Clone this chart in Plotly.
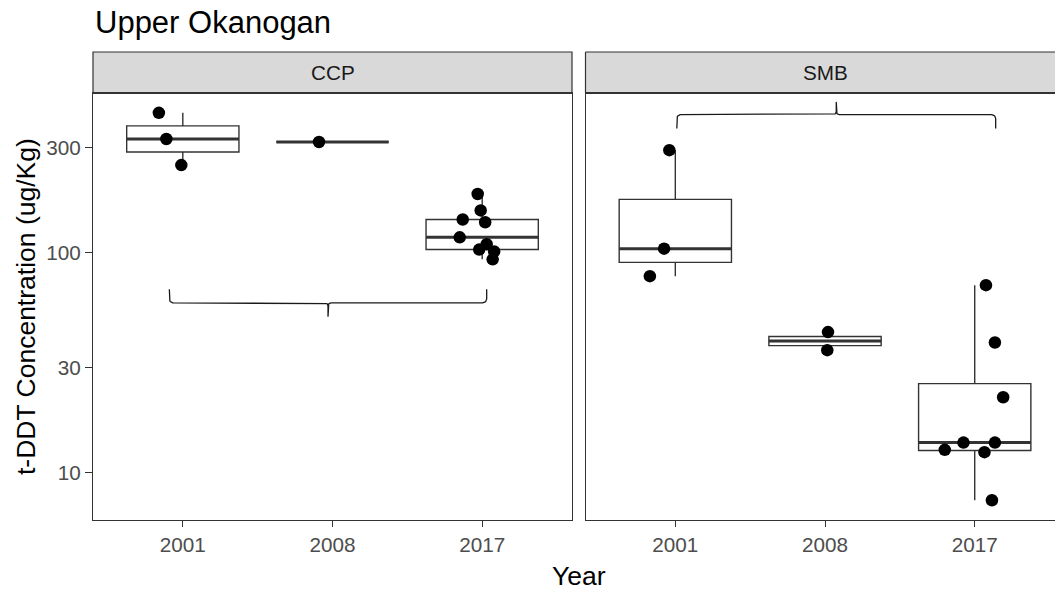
import numpy as np
import plotly.graph_objects as go

# ---- data -------------------------------------------------------------
years = ["2001", "2008", "2017"]
facets = ["CCP", "SMB"]
chart_title = "Upper Okanogan"
x_title = "Year"
y_title = "t-DDT Concentration (ug/Kg)"
y_ticks = [10, 30, 100, 300]

# t-DDT concentrations (ug/Kg) by site and sampling year
ccp_2001 = [430, 327, 249]
ccp_2008 = [317]
ccp_2017 = [184, 155, 141, 137, 117, 109, 103, 101, 93]
smb_2001 = [291, 104, 78]
smb_2008 = [43.5, 36]
smb_2017 = [71, 39, 22, 13.7, 13.7, 12.7, 12.4, 7.5]

# horizontal jitter of each point, in category units
ccp_2001_jitter = [-0.16, -0.11, -0.01]
ccp_2008_jitter = [-0.09]
ccp_2017_jitter = [-0.03, -0.01, -0.13, 0.02, -0.15, 0.03, -0.02, 0.08, 0.07]
smb_2001_jitter = [-0.04, -0.075, -0.17]
smb_2008_jitter = [0.02, 0.015]
smb_2017_jitter = [0.075, 0.135, 0.19, -0.075, 0.135, -0.2, 0.065, 0.115]

# significance braces: (x start, x end, bar level, arm ends, tip)
ccp_brace = (0.91, 3.03, 59, 68, 51)
smb_brace = (1.01, 3.14, 422, 365, 482)

# ---- styling -----------------------------------------------------------
FONT = "Liberation Sans, Arial, sans-serif"
DARK = "#333333"
TICK_GREY = "#4D4D4D"
BOX_W = 0.75
Y_RANGE = [0.7855, 2.722]

# plot-area geometry (pixels)
W, H = 1055, 592
M_L, M_R, M_T, M_B = 93, 0, 52, 72
PW = W - M_L - M_R
PH = H - M_T - M_B
panel_top = 93.3
y_dom_top = (H - M_B - panel_top) / PH
left_dom = [0, 479 / PW]
right_dom = [(585.5 - M_L) / PW, 1]
right_xmax = 0.4 + (W - 585.5) / 149.7


def box_stats(values):
    """Tukey box statistics computed on the log10 scale."""
    lv = np.log10(np.asarray(values, dtype=float))
    q1, med, q3 = np.quantile(lv, [0.25, 0.5, 0.75])
    iqr = q3 - q1
    lo = lv[lv >= q1 - 1.5 * iqr].min()
    hi = lv[lv <= q3 + 1.5 * iqr].max()
    return [10 ** v for v in (lo, q1, med, q3, hi)]


def brace_xy(x0, x1, y_line, y_end, y_tip, rx=0.027, ry=0.018, rt=0.02, rty=0.014, n=10):
    L, E, T = np.log10(y_line), np.log10(y_end), np.log10(y_tip)
    s = np.sign(E - L)
    t = np.sign(T - L)
    xm = (x0 + x1) / 2
    xs, ys = [x0], [E]
    # left corner
    th = np.linspace(np.pi, np.pi + s * np.pi / 2, n)
    xs += list(x0 + rx + rx * np.cos(th)); ys += list(L + s * ry + ry * np.sin(th))
    # middle, left half
    th = np.linspace(-t * np.pi / 2, 0, n)
    xs += list(xm - rt + rt * np.cos(th)); ys += list(L + t * rty + rty * np.sin(th))
    xs += [xm, xm]; ys += [T, L + t * rty]
    # middle, right half
    th = np.linspace(np.pi, np.pi + t * np.pi / 2, n)
    xs += list(xm + rt + rt * np.cos(th)); ys += list(L + t * rty + rty * np.sin(th))
    # right corner
    th = np.linspace(np.pi + s * np.pi / 2, np.pi + s * np.pi, n)
    xs += list(x1 - rx + rx * np.cos(th)); ys += list(L + s * ry + ry * np.sin(th))
    xs.append(x1); ys.append(E)
    return xs, [10 ** v for v in ys]


fig = go.Figure()

panels = [
    ("x", "y", [ccp_2001, ccp_2008, ccp_2017],
     [ccp_2001_jitter, ccp_2008_jitter, ccp_2017_jitter], ccp_brace),
    ("x2", "y2", [smb_2001, smb_2008, smb_2017],
     [smb_2001_jitter, smb_2008_jitter, smb_2017_jitter], smb_brace),
]

for xa, ya, groups, jitters, brace in panels:
    pos = [1, 2, 3]
    stats = [box_stats(g) for g in groups]
    fig.add_trace(go.Box(
        x=pos,
        lowerfence=[s[0] for s in stats], q1=[s[1] for s in stats],
        median=[s[2] for s in stats], q3=[s[3] for s in stats],
        upperfence=[s[4] for s in stats],
        width=BOX_W, whiskerwidth=0, boxpoints=False,
        fillcolor="white", line=dict(color=DARK, width=1.4),
        xaxis=xa, yaxis=ya, showlegend=False, hoverinfo="skip",
    ))
    # thicker median bars
    mx, my = [], []
    for p, s in zip(pos, stats):
        mx += [p - BOX_W / 2, p + BOX_W / 2, None]
        my += [s[2], s[2], None]
    fig.add_trace(go.Scatter(
        x=mx, y=my, mode="lines", line=dict(color=DARK, width=3),
        xaxis=xa, yaxis=ya, showlegend=False, hoverinfo="skip",
    ))
    # jittered observations
    px, py = [], []
    for p, g, j in zip(pos, groups, jitters):
        px += [p + d for d in j]
        py += list(g)
    fig.add_trace(go.Scatter(
        x=px, y=py, mode="markers",
        marker=dict(color="black", size=12.5, line=dict(width=0)),
        xaxis=xa, yaxis=ya, showlegend=False, hoverinfo="skip",
    ))
    bx, by = brace_xy(*brace)
    fig.add_trace(go.Scatter(
        x=bx, y=by, mode="lines", line=dict(color="#1A1A1A", width=1.3),
        xaxis=xa, yaxis=ya, showlegend=False, hoverinfo="skip",
    ))

common_x = dict(
    tickmode="array", tickvals=[1, 2, 3], ticktext=years,
    ticks="outside", ticklen=6, tickwidth=1.2, tickcolor=DARK,
    tickfont=dict(family=FONT, size=20.7, color=TICK_GREY),
    showline=True, linecolor=DARK, linewidth=1.2, mirror=True,
    showgrid=False, zeroline=False,
)
common_y = dict(
    type="log", range=Y_RANGE, domain=[0, y_dom_top],
    showgrid=False, zeroline=False, showline=True, linecolor=DARK, linewidth=1.2,
)

fig.update_layout(
    width=W, height=H,
    margin=dict(l=M_L, r=M_R, t=M_T, b=M_B, pad=0),
    paper_bgcolor="white", plot_bgcolor="white",
    hovermode=False,
    xaxis=dict(domain=left_dom, range=[0.4, 3.6], anchor="y", **common_x),
    xaxis2=dict(domain=right_dom, range=[0.4, right_xmax], anchor="y2", **common_x),
    yaxis=dict(anchor="x", mirror=True,
               tickmode="array", tickvals=y_ticks, ticktext=[str(v) for v in y_ticks],
               ticks="outside", ticklen=7, tickwidth=1.2, tickcolor=DARK,
               tickfont=dict(family=FONT, size=20.7, color=TICK_GREY),
               **common_y),
    yaxis2=dict(anchor="x2", matches="y", mirror=False, showticklabels=False,
                ticks="", **common_y),
)

# facet strips
strip_fill = "#D9D9D9"
fig.add_shape(type="rect", xref="paper", yref="paper",
              x0=left_dom[0], x1=left_dom[1], y0=y_dom_top, y1=1,
              fillcolor=strip_fill, line=dict(color=DARK, width=1.2), layer="below")
fig.add_shape(type="rect", xref="paper", yref="paper",
              x0=right_dom[0], x1=right_dom[1], y0=y_dom_top, y1=1,
              fillcolor=strip_fill, line=dict(width=0), layer="below")
for (a, b, c, d) in [(right_dom[0], 1, right_dom[1], 1),
                     (right_dom[0], y_dom_top, right_dom[1], y_dom_top),
                     (right_dom[0], y_dom_top, right_dom[0], 1)]:
    fig.add_shape(type="line", xref="paper", yref="paper",
                  x0=a, y0=b, x1=c, y1=d, line=dict(color=DARK, width=1.2))

strip_mid = (y_dom_top + 1) / 2
for xa, label in zip(["x", "x2"], facets):
    fig.add_annotation(x=2, xref=xa, y=strip_mid, yref="paper",
                       text=label, showarrow=False, xanchor="center", yanchor="middle",
                       font=dict(family=FONT, size=20.7, color="#1A1A1A"))

# titles
fig.add_annotation(text=chart_title, xref="paper", yref="paper",
                   x=0, y=(H - M_B - 22) / PH, xanchor="left", yanchor="middle",
                   showarrow=False, font=dict(family=FONT, size=31, color="black"))
fig.add_annotation(text=x_title, xref="paper", yref="paper",
                   x=(578.8 - M_L) / PW, y=(H - M_B - 576) / PH,
                   xanchor="center", yanchor="middle", showarrow=False,
                   font=dict(family=FONT, size=26.5, color="black"))
fig.add_annotation(text=y_title, xref="paper", yref="paper",
                   x=(25.5 - M_L) / PW, y=(H - M_B - 306.5) / PH,
                   xanchor="center", yanchor="middle", textangle=-90, showarrow=False,
                   font=dict(family=FONT, size=26.5, color="black"))

fig.write_html("out.html")
